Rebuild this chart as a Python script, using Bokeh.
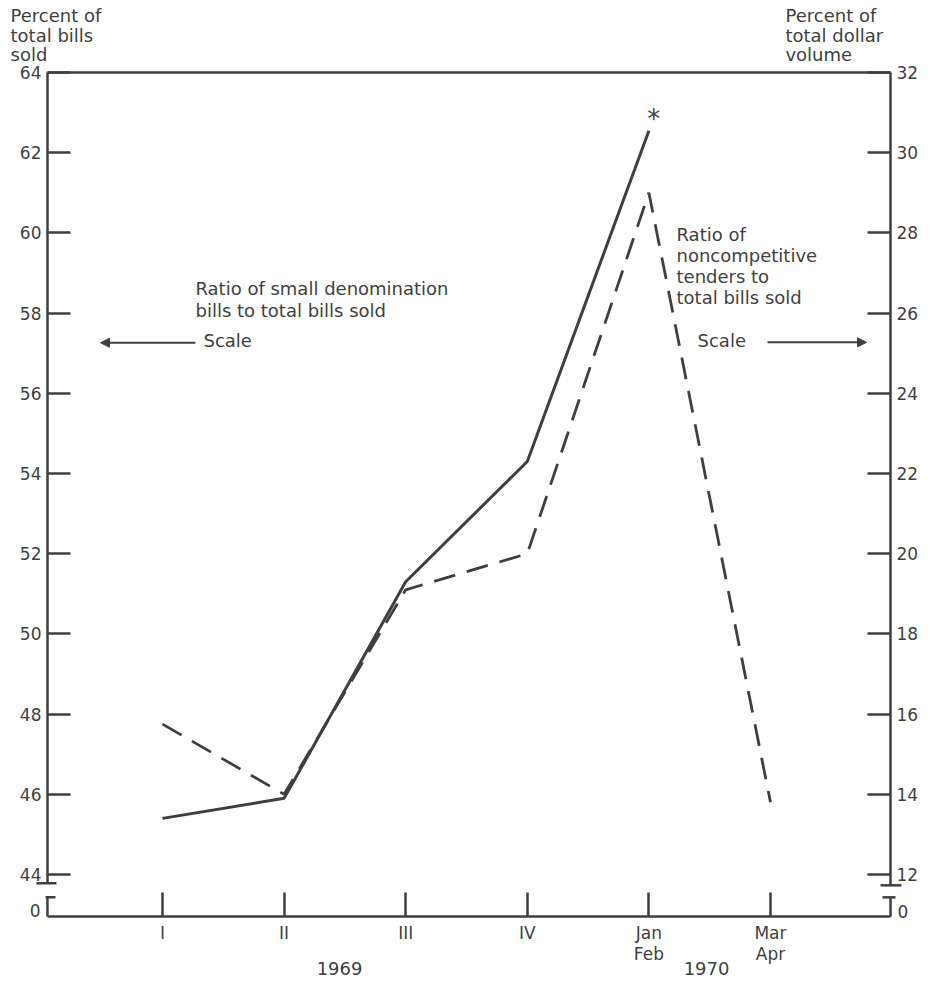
from bokeh.plotting import figure
from bokeh.models import LinearAxis, Range1d, FixedTicker, Label, Arrow, NormalHead
from bokeh.embed import file_html
from bokeh.resources import INLINE

# ---------------- data ----------------
periods = ["I", "II", "III", "IV", "Jan\nFeb", "Mar\nApr"]
small_denom_ratio = [45.4, 45.9, 51.3, 54.3, 62.55]            # left scale (percent of total bills sold)
noncompetitive_ratio = [15.75, 14.0, 19.1, 20.0, 29.0, 13.8]    # right scale (percent of total dollar volume)
left_ticks = [44, 46, 48, 50, 52, 54, 56, 58, 60, 62, 64]
right_ticks = [12, 14, 16, 18, 20, 22, 24, 26, 28, 30, 32]
years = ["1969", "1970"]

INK = "#3f3f3f"
FONT = "DejaVu Sans"
TXT = "18px"

W, H = 930, 984
xpos = list(range(len(periods)))

# frame covers the whole canvas; axes are drawn at fixed locations inside it
XL, XR = -0.946, 5.987          # left / right axis positions
YB = 42.95                      # "0" baseline of the broken axes (left-scale units)
SHIFT = 32                      # right scale = left scale - 32
x_lo, x_hi = -162 / 121.6, (W - 162) / 121.6
y_hi, y_lo = 64 + 72 / 40.1, 64 - (H - 72) / 40.1

p = figure(width=W, height=H, output_backend="svg", toolbar_location=None,
           x_range=Range1d(x_lo, x_hi), y_range=Range1d(y_lo, y_hi),
           min_border=0)
p.title.visible = False
p.outline_line_color = None
p.xgrid.visible = False
p.ygrid.visible = False
p.background_fill_color = "white"
p.border_fill_color = "white"

def style_axis(ax, tick_len):
    ax.axis_line_color = INK
    ax.axis_line_width = 2.5
    ax.major_tick_line_color = INK
    ax.major_tick_line_width = 2.5
    ax.major_tick_in = tick_len
    ax.major_tick_out = 0
    ax.minor_tick_line_color = None
    ax.major_label_text_font = FONT
    ax.major_label_text_font_size = "17px"
    ax.major_label_text_color = INK

# left axis (broken below 44)
ly = p.yaxis[0]
style_axis(ly, 23)
ly.fixed_location = XL
ly.bounds = (43.78, 64)
ly.ticker = FixedTicker(ticks=left_ticks)
ly.major_label_standoff = 6

# right axis
p.extra_y_ranges = {"right": Range1d(y_lo - SHIFT, y_hi - SHIFT)}
ry = LinearAxis(y_range_name="right")
style_axis(ry, 23)
ry.fixed_location = XR
ry.bounds = (43.73 - SHIFT, 64 - SHIFT)
ry.ticker = FixedTicker(ticks=right_ticks)
ry.major_label_standoff = 6
p.add_layout(ry, "right")

# bottom axis
bx = p.xaxis[0]
style_axis(bx, 24)
bx.fixed_location = YB
bx.bounds = (XL, XR)
bx.ticker = FixedTicker(ticks=xpos)
bx.major_label_overrides = {i: lab for i, lab in zip(xpos, periods)}
bx.major_label_standoff = 6
bx.major_label_text_line_height = 1.05

# top frame line, lower axis stubs and break marks
p.segment(x0=[XL], y0=[64], x1=[XR], y1=[64], line_color=INK, line_width=2.5)
p.segment(x0=[XL, XR], y0=[43.43, 43.43], x1=[XL, XR], y1=[YB, YB], line_color=INK, line_width=2.5)
p.segment(x0=[-1.036, -0.962, 5.905, 5.921], y0=[43.78, 43.43, 43.73, 43.43],
          x1=[-0.872, -0.880, 6.077, 6.028], y1=[43.78, 43.43, 43.73, 43.43],
          line_color=INK, line_width=2.5)

# data lines
p.line(xpos[:len(small_denom_ratio)], small_denom_ratio, line_width=3, line_color=INK)
p.line(xpos, noncompetitive_ratio, y_range_name="right", line_width=2.8,
       line_color=INK, line_dash="22 12")

def label(x, y, text, align="left", size=TXT, **kw):
    p.add_layout(Label(x=x, y=y, text=text, text_font=FONT, text_font_size=size,
                       text_color=INK, text_align=align, text_baseline="middle", **kw))

# "0" labels of the broken axes
label(-1.003, 43.10, "0", align="right", size="17px")
label(6.044, 43.08, "0", align="left", size="17px")

# asterisk on Jan-Feb point
label(4.04, 62.85, "*", align="center", size="26px")

# inner annotations
label(0.271, 58.61, "Ratio of small denomination")
label(0.271, 58.06, "bills to total bills sold")
label(0.337, 57.32, "Scale")
p.add_layout(Arrow(x_start=0.271, y_start=57.26, x_end=-0.51, y_end=57.26,
                   line_color=INK, line_width=2,
                   end=NormalHead(size=9, fill_color=INK, line_color=INK)))

label(4.227, 59.96, "Ratio of")
label(4.227, 59.44, "noncompetitive")
label(4.227, 58.91, "tenders to")
label(4.227, 58.39, "total bills sold")
label(4.40, 57.32, "Scale")
p.add_layout(Arrow(x_start=4.975, y_start=57.27, x_end=5.79, y_end=57.27,
                   line_color=INK, line_width=2,
                   end=NormalHead(size=9, fill_color=INK, line_color=INK)))

# axis titles
label(-1.25, 65.42, "Percent of")
label(-1.25, 64.92, "total bills")
label(-1.25, 64.45, "sold")
label(5.123, 65.42, "Percent of")
label(5.123, 64.92, "total dollar")
label(5.123, 64.45, "volume")

# years
label(1.456, 41.66, years[0], align="center")
label(4.474, 41.66, years[1], align="center")

open("out.html", "w").write(file_html(p, INLINE))
